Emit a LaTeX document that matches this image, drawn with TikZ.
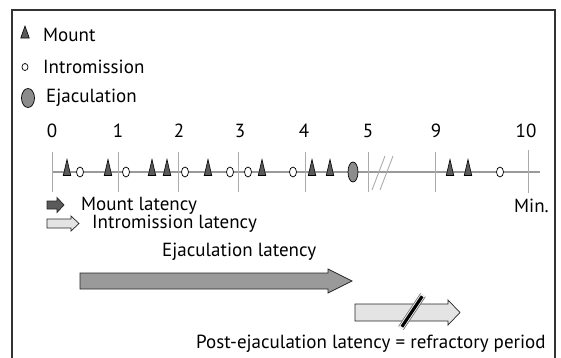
\documentclass[tikz,border=0pt]{standalone}
\usepackage{fontspec}
\setmainfont{PT Sans}
\usetikzlibrary{shapes.geometric}
\definecolor{frame}{HTML}{333333}
\definecolor{axisgray}{HTML}{9A9A9A}
\definecolor{tickgray}{HTML}{ABABAB}
\definecolor{mountfill}{HTML}{5A5A5A}
\definecolor{ejfill}{HTML}{8C8C8C}
\definecolor{darkarrow}{HTML}{9A9A9A}
\definecolor{lightarrow}{HTML}{E4E4E4}
\tikzset{
  txt/.style={font=\fontsize{19}{19}\selectfont, inner sep=0pt, text=black},
  mountmk/.style={isosceles triangle, isosceles triangle stretches, shape border rotate=90, fill=mountfill, draw=black, line width=0.6pt, inner sep=0pt, minimum height=16pt, minimum width=7.5pt},
  intromk/.style={ellipse, draw=black, fill=white, line width=0.7pt, inner sep=0pt, minimum width=7pt, minimum height=10pt},
  ejmk/.style={ellipse, draw=black, fill=ejfill, line width=0.7pt, inner sep=0pt, minimum width=10pt, minimum height=20pt},
  tickln/.style={draw=tickgray, line width=0.9pt},
  blockarrow/.style={draw=black!85, line width=0.7pt, line join=miter},
}
% \blockarr{style}{x0}{xh}{xt}{yc}{h}{H}
\newcommand\blockarr[7]{%
  \draw[blockarrow,#1] (#2,#5-#6) -- (#3,#5-#6) -- (#3,#5-#7) -- (#4,#5) -- (#3,#5+#7) -- (#3,#5+#6) -- (#2,#5+#6) -- cycle;}
\begin{document}
\begin{tikzpicture}[x=1pt,y=-1pt]
\useasboundingbox (0,0) rectangle (561,357);
\begin{scope}
\clip (0,0) rectangle (561,357);
\draw[frame, line width=1.4pt] (12,400) -- (12,10) -- (555,10) -- (555,400);
\end{scope}
% legend
\node[mountmk, minimum height=12pt, minimum width=8.5pt] (lm) at (25,35) {};
\node[txt, anchor=west] (lmt) at (43,35) {Mount};
\node[intromk, minimum width=6pt, minimum height=7pt] (li) at (25,67) {};
\node[txt, anchor=west] (lit) at (43,67) {Intromission};
\node[ejmk, minimum width=13pt, minimum height=19pt] (le) at (28,98) {};
\node[txt, anchor=west] (let) at (46,98) {Ejaculation};
% axis numbers
\foreach \n/\x in {0/52,1/118,2/179,3/240,4/304,5/368,9/436,10/526}{
  \node[txt] (n\n) at (\x,131) {\n};
}
% axis line
\coordinate (a0) at (52,172);
\coordinate (a1) at (540,172);
\draw[axisgray, line width=2.6pt] (a0) -- (a1);
\foreach \x in {52,118,178,238,305,368,435}{
  \draw[tickln] (\x,152) -- (\x,192);
}
\draw[tickln] (528,150) -- (528,193);
% break marks
\draw[tickgray, line width=0.9pt] (372,190) -- (385,156);
\draw[tickgray, line width=0.9pt] (380,190) -- (393,156);
% markers
\foreach \x in {67,108,152,167,208,262,312,330,450,468}{
  \node[mountmk] at (\x,172.5) {};
}
\foreach \x in {80,126,185,230,248,293,500}{
  \node[intromk] at (\x,172) {};
}
\node[ejmk] (ej) at (353,172) {};
% latency arrows
\blockarr{fill=mountfill}{47}{57}{64}{205}{4}{7.5}
\node[txt, anchor=west] (mlt) at (81,206) {Mount latency};
\blockarr{fill=lightarrow}{47}{71}{79}{223.5}{4.5}{7.5}
\node[txt, anchor=west] (ilt) at (92,224) {Intromission latency};
\node[txt, anchor=west] (elt) at (162,252) {Ejaculation latency};
\blockarr{fill=darkarrow}{80}{328}{352}{281}{8}{12}
\blockarr{fill=lightarrow}{355}{448}{460}{312.5}{8.5}{12.5}
% break on post arrow
\coordinate (b1) at (401,328);
\coordinate (b2) at (423,295);
\draw[black!55, line width=6.5pt] (b1) -- (b2);
\draw[white, line width=4.8pt] (b1) -- (b2);
\draw[black, line width=3.2pt, shorten <=1.5pt, shorten >=1.5pt] (b1) -- (b2);
\node[txt, anchor=west] (plt) at (196,344) {Post-ejaculation latency = refractory period};
\node[txt, anchor=west] (min) at (514,206) {Min.};
\end{tikzpicture}
\end{document}
